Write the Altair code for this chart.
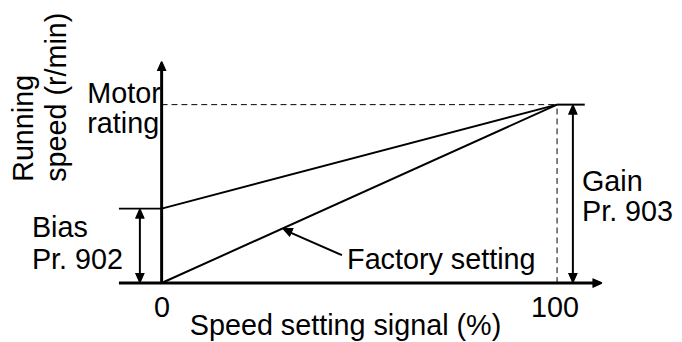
import math
import altair as alt
import pandas as pd

W, H = 672, 334
PX_X, PX_Y = 3.99, 1.8          # pixels per data unit
X_DOM = [-38.85, -38.85 + W / PX_X]
Y_DOM = [153.33 - H / PX_Y, 153.33]
FONT = "Liberation Sans"
FS = 29

# ---- data (x: speed setting signal %, y: running speed % of motor rating)
signal = [0, 100]
bias_curve = [41.7, 100]
factory_curve = [0, 100]

# axis rules
axis_x = [0, -10.8]
axis_x2 = [0, 110.3]
axis_y = [0, 0]
axis_y2 = [121.0, 0]

# thin solid rules: bias tick, top tick, bias arrow, gain arrow, leader
thin_x = [-10.8, 100, -5.5, 104.0, 45.6]
thin_x2 = [0, 107.0, -5.5, 104.0, 31.0]
thin_y = [41.7, 100, 3.0, 3.0, 15.6]
thin_y2 = [41.7, 100, 38.9, 97.2, 29.8]

# dashed guide rules
dash_x = [0, 100]
dash_x2 = [100, 100]
dash_y = [100, 0]
dash_y2 = [100, 100]

# arrow heads: tip point and a point on the shaft behind it
tip_x = [0, 111.5, -5.5, -5.5, 104.0, 104.0, 30.6]
tip_y = [124.4, 0, 41.7, 0, 100, 0, 30.6]
tail_x = [0, 0, -5.5, -5.5, 104.0, 104.0, 45.6]
tail_y = [0, 0, 0, 41.7, 0, 100, 15.6]
HEAD_LEN, HEAD_HALF = 10.0, 4.5   # pixels

# labels (left aligned)
lab_text = ["Motor", "rating", "Bias", "Pr. 902", "Gain", "Pr. 903", "Factory setting"]
lab_x = [-18.8, -18.8, -32.8, -32.8, 106.3, 106.3, 46.9]
lab_y = [101.1, 83.9, 25.6, 7.8, 51.7, 34.7, 7.8]

# centered labels (ticks and x title)
cen_text = ["0", "100", "Speed setting signal (%)"]
cen_x = [0.1, 99.5, 46.5]
cen_y = [-18.9, -18.9, -29.4]

# rotated y title
rot_text = ["Running", "speed (r/min)"]
rot_x = [-32.6, -24.1]
rot_y = [56.7, 56.7]

xs = alt.Scale(domain=X_DOM, nice=False, zero=False)
ys = alt.Scale(domain=Y_DOM, nice=False, zero=False)


def X(f="x"):
    return alt.X(f"{f}:Q", scale=xs, axis=None)


def Y(f="y"):
    return alt.Y(f"{f}:Q", scale=ys, axis=None)


def head_pts(i, shrink=0.0):
    tx, ty = tip_x[i], tip_y[i]
    dx = (tail_x[i] - tx) * PX_X
    dy = (tail_y[i] - ty) * PX_Y
    n = math.hypot(dx, dy)
    ux, uy = dx / n, dy / n
    L, Hh = HEAD_LEN - 2 * shrink, HEAD_HALF - shrink
    ox, oy = ux * shrink, uy * shrink
    bx, by = ux * L, uy * L
    px, py = -uy * Hh, ux * Hh
    return [(tx + ox / PX_X, ty + oy / PX_Y),
            (tx + (ox + bx + px) / PX_X, ty + (oy + by + py) / PX_Y),
            (tx + (ox + bx - px) / PX_X, ty + (oy + by - py) / PX_Y)]


def area_rows(i):
    pts = sorted(head_pts(i), key=lambda p: p[0])
    (x0, y0), (x1, y1), (x2, y2) = pts
    yi = y0 if x2 == x0 else y0 + (y2 - y0) * (x1 - x0) / (x2 - x0)
    return [
        {"h": i, "x": x0, "y": y0, "y2": y0},
        {"h": i, "x": x1, "y": y1, "y2": yi},
        {"h": i, "x": x2, "y": y2, "y2": y2},
    ]


def outline_rows(i):
    pts = head_pts(i, shrink=0.8)
    pts = pts + [pts[0]]
    return [{"h": i, "x": p[0], "y": p[1], "o": k} for k, p in enumerate(pts)]


area_df = pd.DataFrame([r for i in range(len(tip_x)) for r in area_rows(i)])
outline_df = pd.DataFrame([r for i in range(len(tip_x)) for r in outline_rows(i)])

curves = pd.DataFrame({
    "x": signal + signal,
    "y": bias_curve + factory_curve,
    "s": ["bias"] * 2 + ["factory"] * 2,
})
lines = alt.Chart(curves).mark_line(color="black", strokeWidth=2).encode(
    x=X(), y=Y(), detail="s:N")

axes = alt.Chart(pd.DataFrame({"x": axis_x, "x2": axis_x2, "y": axis_y, "y2": axis_y2})).mark_rule(
    color="black", strokeWidth=3).encode(x=X(), x2="x2:Q", y=Y(), y2="y2:Q")

thin = alt.Chart(pd.DataFrame({"x": thin_x, "x2": thin_x2, "y": thin_y, "y2": thin_y2})).mark_rule(
    color="black", strokeWidth=2).encode(x=X(), x2="x2:Q", y=Y(), y2="y2:Q")

dashed = alt.Chart(pd.DataFrame({"x": dash_x, "x2": dash_x2, "y": dash_y, "y2": dash_y2})).mark_rule(
    color="black", strokeWidth=1, strokeDash=[6, 4]).encode(x=X(), x2="x2:Q", y=Y(), y2="y2:Q")

head_fill = alt.Chart(area_df).mark_area(color="black").encode(
    x=X(), y=Y(), y2="y2:Q", detail="h:N")

head_line = alt.Chart(outline_df).mark_line(
    color="black", strokeWidth=1.6, strokeJoin="miter").encode(
    x=X(), y=Y(), detail="h:N", order="o:Q")

labels = alt.Chart(pd.DataFrame({"x": lab_x, "y": lab_y, "t": lab_text})).mark_text(
    align="left", baseline="alphabetic", font=FONT, fontSize=FS, color="black"
).encode(x=X(), y=Y(), text="t:N")

centered = alt.Chart(pd.DataFrame({"x": cen_x, "y": cen_y, "t": cen_text})).mark_text(
    align="center", baseline="alphabetic", font=FONT, fontSize=FS, color="black"
).encode(x=X(), y=Y(), text="t:N")

rotated = alt.Chart(pd.DataFrame({"x": rot_x, "y": rot_y, "t": rot_text})).mark_text(
    align="left", baseline="alphabetic", font=FONT, fontSize=FS, color="black", angle=270
).encode(x=X(), y=Y(), text="t:N")

chart = alt.layer(dashed, lines, axes, thin, head_fill, head_line, labels, centered, rotated).properties(
    width=W, height=H, autosize=alt.AutoSizeParams(type="none"), padding=0
).configure_view(stroke=None)

chart.save("out.html", embed_options={"renderer": "svg", "actions": False})
